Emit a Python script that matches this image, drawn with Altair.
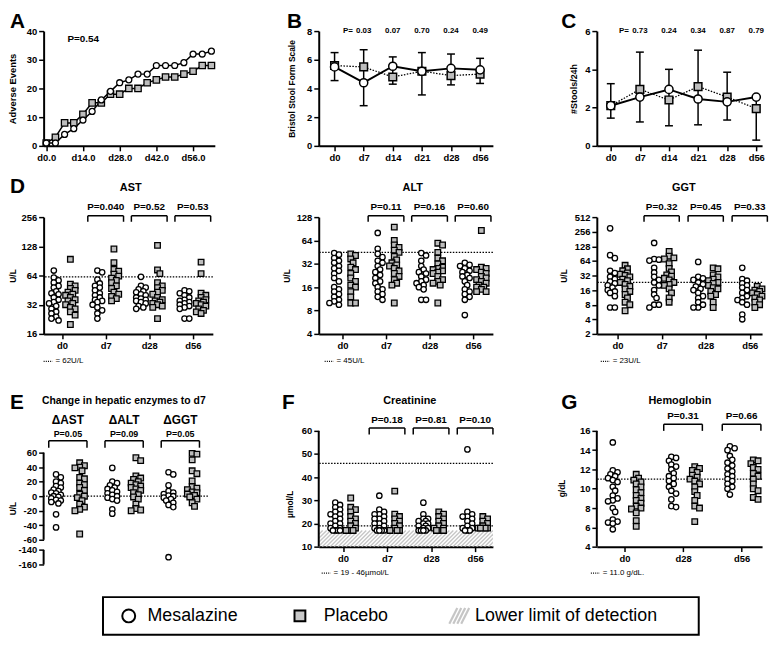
import math
import altair as alt
import pandas as pd

FONT = "Liberation Sans"
INK = "black"
PFILL = "#bdbdbd"
HATCH = "#c6c6c6"

# ------------------------------------------------------------------ data
# A  cumulative adverse events
A_days = [0, 3.5, 7, 10.5, 14, 17.5, 21, 24.5, 28, 31.5, 35, 38.5, 42, 45.5, 49, 52.5, 56, 59.5, 63]
A_mes = [1, 1, 4, 6, 9, 12, 16, 19, 22, 23, 25, 25, 28, 28, 28, 29, 32, 32, 33]
A_pla = [1, 3, 8, 8, 11, 15, 15, 18, 18, 20, 20, 22, 23, 24, 24, 25, 26, 28, 28]
A_ticks = [0, 14, 28, 42, 56]
A_ptext = "P=0.54"

# B / C  stool form and frequency
BC_days = ["d0", "d7", "d14", "d21", "d28", "d56"]
B_mes = [5.5, 4.4, 5.55, 5.2, 5.4, 5.3]
B_pla = [5.6, 5.5, 4.8, 5.2, 4.9, 5.0]
B_lo = [4.55, 2.8, 4.3, 3.55, 4.25, 4.35]
B_hi = [6.5, 6.7, 6.2, 6.5, 6.4, 6.1]
B_p = ["0.03", "0.07", "0.70", "0.24", "0.49"]

C_mes = [2.1, 2.55, 2.95, 2.45, 2.3, 2.55]
C_pla = [2.1, 2.95, 2.4, 3.1, 2.55, 1.95]
C_lo = [1.45, 1.25, 1.05, 1.1, 1.35, 0.3]
C_hi = [3.25, 4.9, 4.0, 5.0, 3.85, 2.55]
C_p = ["0.73", "0.24", "0.34", "0.87", "0.79"]

LAB_days = ["d0", "d7", "d28", "d56"]
# D  AST (U/L)
AST_d0_mes = [72, 61, 57, 54, 50, 48, 44, 42, 41, 38, 36, 34, 33, 31, 29, 27, 26, 24, 23, 22]
AST_d0_pla = [94, 52, 50, 47, 45, 43, 41, 40, 38, 36, 35, 33, 32, 30, 29, 27, 25, 20]
AST_d7_mes = [72, 69, 58, 53, 50, 48, 45, 42, 40, 38, 36, 35, 34, 32, 30, 28, 26, 23]
AST_d7_pla = [120, 87, 74, 71, 66, 63, 60, 57, 54, 50, 47, 43, 41, 39, 37, 35]
AST_d28_mes = [62, 50, 48, 46, 44, 43, 41, 40, 38, 37, 36, 35, 34, 33, 31, 30, 29]
AST_d28_pla = [131, 73, 67, 54, 50, 48, 45, 43, 41, 38, 36, 35, 34, 33, 32, 31, 30, 23]
AST_d56_mes = [45, 44, 42, 40, 38, 36, 35, 34, 33, 32, 31, 30, 29, 23, 23]
AST_d56_pla = [88, 67, 42, 40, 38, 36, 35, 34, 33, 32, 31, 29, 28, 27, 26]
AST_p = ["P=0.040", "P=0.52", "P=0.53"]
AST_ref = [62]

# D  ALT (U/L)
ALT_d0_mes = [44, 42, 38, 35, 33, 30, 28, 26, 24, 21, 19, 16, 15, 14, 13, 12, 11, 10.5, 10, 9.5]
ALT_d0_pla = [43, 41, 37, 33, 29, 27, 24, 21, 19, 17, 16, 14, 12, 10, 10]
ALT_d7_mes = [80, 50, 43, 39, 35, 33, 30, 27, 25, 23, 21, 19, 18, 16, 15, 14, 13, 12, 11]
ALT_d7_pla = [95, 64, 56, 52, 48, 45, 40, 36, 33, 31, 30, 28, 26, 24, 22, 20, 18, 17, 10]
ALT_d28_mes = [44, 41, 35, 30, 27, 25, 24, 22, 20, 19, 18, 17, 16, 15, 11, 11]
ALT_d28_pla = [59, 56, 45, 38, 35, 32, 29, 28, 27, 26, 25, 24, 22, 20, 19, 18, 17, 10]
ALT_d56_mes = [33, 31, 30, 28, 26, 25, 23, 22, 21, 19, 17, 15, 14, 13, 12, 11, 7]
ALT_d56_pla = [86, 29, 28, 27, 25, 24, 22, 21, 20, 19, 18, 17, 16, 16, 15, 14, 14]
ALT_p = ["P=0.11", "P=0.16", "P=0.60"]
ALT_ref = [45]

# D  GGT (U/L)
GGT_d0_mes = [300, 84, 73, 40, 36, 30, 27, 24, 22, 20, 18, 16, 15, 14, 12, 7, 7]
GGT_d0_pla = [52, 44, 40, 36, 34, 32, 30, 27, 25, 23, 21, 19, 17, 15, 13, 11, 9, 8, 6]
GGT_d7_mes = [150, 70, 68, 65, 46, 37, 30, 26, 23, 20, 16, 13, 11, 8, 8, 7]
GGT_d7_pla = [100, 80, 74, 70, 56, 45, 38, 33, 31, 28, 26, 23, 21, 20, 17, 14, 11, 9]
GGT_d28_mes = [61, 30, 28, 26, 23, 21, 19, 17, 16, 14, 12, 11, 9, 8, 7, 7]
GGT_d28_pla = [46, 44, 33, 30, 27, 25, 23, 22, 20, 18, 17, 15, 13, 12, 9, 7]
GGT_d56_mes = [46, 27, 25, 22, 20, 18, 16, 14, 12, 11, 10, 9, 8, 5, 4]
GGT_d56_pla = [19, 17, 16, 15, 14, 13, 12, 11, 10, 9, 8, 7]
GGT_p = ["P=0.32", "P=0.45", "P=0.33"]
GGT_ref = [23]

# E  change to d7 (U/L)
E_cats = ["ΔAST", "ΔALT", "ΔGGT"]
E_AST_mes = [30, 26, 20, 18, 14, 12, 9, 7, 5, 4, 2, 0, -1, -3, -5, -6, -8, -10, -25, -43]
E_AST_pla = [46, 42, 40, 39, 35, 26, 24, 18, 16, 12, 8, 3, 0, -2, -6, -11, -15, -18, -20, -52]
E_ALT_mes = [39, 20, 18, 15, 12, 10, 8, 6, 4, 2, 0, -2, -4, -6, -18, -24]
E_ALT_pla = [53, 49, 28, 25, 23, 20, 18, 16, 14, 12, 10, 8, 5, 2, -1, -4, -11, -17, -19, -20]
E_GGT_mes = [33, 30, 15, 7, 5, 3, 1, 0, -2, -4, -6, -9, -12, -15, -150]
E_GGT_pla = [59, 58, 50, 35, 31, 21, 13, 11, 9, 6, 5, 3, 1, -1, -4, -9, -14]
E_p = ["P=0.05", "P=0.09", "P=0.05"]
E_upper_ticks = [60, 40, 20, 0, -20, -40, -60]
E_lower_ticks = [-140, -160]
E_ref = [0]

# F  creatinine (umol/L)
F_d0_mes = [29, 28, 27, 26, 25, 24, 24, 23, 22, 21, 20, 20, 19, 18, 18, 17, 17, 17, 17]
F_d0_pla = [31, 27, 26, 25, 23, 22, 21, 20, 19, 18, 17, 17, 17]
F_d7_mes = [32, 26, 25, 24, 24, 23, 22, 22, 21, 20, 20, 19, 18, 18, 17, 17, 17, 17]
F_d7_pla = [34, 24, 23, 22, 21, 20, 19, 18, 17, 17, 17]
F_d28_mes = [29, 24, 22, 22, 21, 21, 20, 20, 19, 19, 18, 18, 17, 17, 17, 17]
F_d28_pla = [25, 24, 23, 22, 21, 20, 19, 18, 18, 17, 17, 17, 17]
F_d56_mes = [52, 25, 24, 23, 23, 22, 21, 20, 19, 18, 18, 17, 17, 17]
F_d56_pla = [23, 22, 21, 20, 19, 18, 18, 18, 18]
F_p = ["P=0.18", "P=0.81", "P=0.10"]
F_ref = [19, 46]
F_lod = 17
F_ticks = [10, 20, 30, 40, 50, 60]

# G  hemoglobin (g/dL)
G_days = ["d0", "d28", "d56"]
G_d0_mes = [14.8, 11.9, 11.7, 11.5, 11.3, 11.1, 10.9, 10.7, 10.2, 9.8, 9.3, 9.0, 8.8, 8.7, 8.0, 7.6, 6.8, 6.6, 6.5, 6.4, 5.8]
G_d0_pla = [11.5, 11.1, 10.9, 10.7, 10.5, 10.2, 9.9, 9.6, 9.3, 9.0, 8.8, 8.5, 8.2, 8.0, 7.9, 7.5, 6.7, 6.1]
G_d28_mes = [13.3, 13.2, 12.9, 12.5, 12.3, 12.0, 11.6, 11.3, 11.1, 10.8, 10.5, 10.2, 9.8, 9.5, 8.9, 8.2, 8.1]
G_d28_pla = [12.3, 12.1, 11.9, 11.7, 11.4, 11.2, 11.0, 10.8, 10.5, 10.2, 9.7, 9.3, 8.8, 8.2, 8.0, 6.6]
G_d56_mes = [14.4, 14.2, 14.0, 13.4, 13.0, 12.7, 12.4, 12.1, 11.8, 11.5, 11.3, 11.0, 10.8, 10.5, 10.2, 10.0, 9.4]
G_d56_pla = [13.0, 12.9, 12.6, 12.2, 12.0, 11.6, 11.3, 11.0, 10.5, 10.0, 9.8, 9.1, 8.9]
G_p = ["P=0.31", "P=0.66"]
G_ref = [11.0]
G_ticks = [4, 6, 8, 10, 12, 14, 16]

LEGEND = ["Mesalazine", "Placebo", "Lower limit of detection"]


# ------------------------------------------------------------------ helpers
def note(t, x, y, size=10, weight="bold", align="center", baseline="middle"):
    return alt.Chart(pd.DataFrame({"t": [t]})).mark_text(
        font=FONT, fontSize=size, fontWeight=weight, align=align,
        baseline=baseline, color=INK
    ).encode(x=alt.value(x), y=alt.value(y), text="t:N")


def seg(x, x2, y, y2=None, dash=None, width=1.5, color=INK):
    kw = dict(color=color, strokeWidth=width)
    if dash:
        kw["strokeDash"] = dash
    enc = dict(x=alt.value(x), x2=alt.value(x2), y=alt.value(y))
    if y2 is not None:
        enc["y2"] = alt.value(y2)
    return alt.Chart(pd.DataFrame({"k": [0]})).mark_rule(**kw).encode(**enc)


def letter(t, x, y):
    return note(t, x, y, size=21, align="left", baseline="alphabetic")


def circles(df, X, Y, size, sw=1.3):
    return alt.Chart(df).mark_point(
        shape="circle", filled=True, fill="white", stroke=INK,
        strokeWidth=sw, size=size, opacity=1
    ).encode(x=X("x"), y=Y("y"))


def squares(df, X, Y, size, sw=1.3):
    return alt.Chart(df).mark_point(
        shape="square", filled=True, fill=PFILL, stroke=INK,
        strokeWidth=sw, size=size, opacity=1
    ).encode(x=X("x"), y=Y("y"))


def y_axis(values, title, tx, ty, label_expr=None, domain=True, title_size=8.5):
    kw = dict(values=values, title=title, titleX=tx, titleY=ty, titleAngle=270,
              titleAlign="center", titleBaseline="middle",
              titleFontSize=title_size, domain=domain)
    if label_expr:
        kw["labelExpr"] = label_expr
    return alt.Axis(**kw)


def cat_axis(names, base):
    arr = "[" + ",".join("'" + n + "'" for n in names) + "]"
    return alt.Axis(values=list(range(base, base + len(names))),
                    labelExpr=f"{arr}[datum.value - {base}]", title=None)


def swarm(pys, step=2.4, mind=4.2, kmax=2):
    """Compact column scatter: spread near-equal values sideways, max +-kmax steps."""
    order = sorted(range(len(pys)), key=lambda i: -pys[i])
    cands = [0.0]
    for k in range(1, kmax + 1):
        cands += [k * step, -k * step]
    placed, out = [], [0.0] * len(pys)
    for i in order:
        y = pys[i]
        best, bestd = 0.0, -1.0
        for c in cands:
            d = min([math.hypot(c - a, y - b) for a, b in placed] or [99.0])
            if d >= mind:
                best = c
                break
            if d > bestd:
                best, bestd = c, d
        placed.append((best, y))
        out[i] = best
    return out


def build_points(groups, side, xunit, ypx, tf):
    rows = []
    for i, (m, p) in enumerate(groups, start=1):
        for vals, sgn, g in ((m, -1, "Mesalazine"), (p, 1, "Placebo")):
            tv = [tf(v) for v in vals]
            offs = swarm([ypx(v) for v in tv])
            for v, o in zip(tv, offs):
                rows.append({"x": i + sgn * side + o / xunit, "y": v, "grp": g})
    return pd.DataFrame(rows)


# ------------------------------------------------------------------ panel A
H1 = 116
A_dom = [-1.0, 64.3]
W_A = 173
sAx = alt.Scale(domain=A_dom, nice=False, zero=False)
aAx = alt.Axis(values=A_ticks, labelExpr="'d' + format(datum.value, '.1f')", title=None)
sAy = alt.Scale(domain=[0, 40], nice=False)
aAy = y_axis([0, 10, 20, 30, 40], "Adverse Events", -31, H1 / 2, title_size=9.5)


def XA(f):
    return alt.X(f, type="quantitative", scale=sAx, axis=aAx)


def YA(f):
    return alt.Y(f, type="quantitative", scale=sAy, axis=aAy)


dfAm = pd.DataFrame({"x": A_days, "y": A_mes})
dfAp = pd.DataFrame({"x": A_days, "y": A_pla})
pA = alt.layer(
    alt.Chart(dfAp).mark_line(color=INK, strokeWidth=1.5).encode(x=XA("x"), y=YA("y")),
    alt.Chart(dfAm).mark_line(color=INK, strokeWidth=1.5).encode(x=XA("x"), y=YA("y")),
    squares(dfAp, XA, YA, 42),
    circles(dfAm, XA, YA, 36),
    note(A_ptext, 40, 8),
    letter("A", -34, -3),
).properties(width=W_A, height=H1)


# ------------------------------------------------------------------ panels B, C
def bc_panel(mes, pla, lo, hi, pv, ymax, ytitle, tsize, ttx, W, xdom, let, letx):
    sx = alt.Scale(domain=xdom, nice=False, zero=False)
    ax = cat_axis(BC_days, 0)
    sy = alt.Scale(domain=[0, ymax], nice=False)
    ay = y_axis(list(range(0, ymax + 1, 2)), ytitle, ttx, H1 / 2, title_size=tsize)

    def X(f):
        return alt.X(f, type="quantitative", scale=sx, axis=ax)

    def Y(f):
        return alt.Y(f, type="quantitative", scale=sy, axis=ay)

    unit = W / (xdom[1] - xdom[0])
    idx = list(range(len(BC_days)))
    cap = 4.0 / unit
    dm = pd.DataFrame({"x": idx, "y": mes})
    dp = pd.DataFrame({"x": idx, "y": pla})
    de = pd.DataFrame({"x": idx, "lo": lo, "hi": hi,
                       "xl": [i - cap for i in idx], "xr": [i + cap for i in idx]})
    dv = pd.DataFrame({"x": idx[1:], "t": pv})
    bar = alt.Chart(de).mark_rule(color=INK, strokeWidth=1.5)
    layers = [
        bar.encode(x=X("x"), y=Y("lo"), y2="hi:Q"),
        bar.encode(x=X("xl"), x2="xr:Q", y=Y("lo")),
        bar.encode(x=X("xl"), x2="xr:Q", y=Y("hi")),
        alt.Chart(dp).mark_line(color=INK, strokeWidth=1.3, strokeDash=[1.5, 1.5]).encode(x=X("x"), y=Y("y")),
        alt.Chart(dm).mark_line(color=INK, strokeWidth=2).encode(x=X("x"), y=Y("y")),
        squares(dp, X, Y, 60, 1.5),
        circles(dm, X, Y, 68, 1.5),
        alt.Chart(dv).mark_text(font=FONT, fontSize=8, fontWeight="bold", color=INK).encode(
            x=X("x"), y=alt.value(0), text="t:N"),
        note("P=", (1 - xdom[0]) * unit - 11, 0, size=8, align="right"),
        letter(let, letx, -3),
    ]
    return alt.layer(*layers).properties(width=W, height=H1)


pB = bc_panel(B_mes, B_pla, B_lo, B_hi, B_p, 8, "Bristol Stool Form Scale", 8.5, -27,
              176, [-0.544, 5.44], "B", -32)
pC = bc_panel(C_mes, C_pla, C_lo, C_hi, C_p, 6, "#Stools/24h", 9, -24,
              167, [-0.48, 5.2], "C", -36)


# ------------------------------------------------------------------ lab panels
def lab_panel(groups, cats, *, W, H, xdom, side, bhalf, ylog, ydom, ykpx, yticks,
              ytitle, ytx, yty, refs, pvals, pstart, by, bleg, py, psize=10,
              title=None, tx=0, ty=0, tsize=11, let="", lx=0, ly=0,
              foot=None, fx=0, fy=0, ylab=None, axis_segments=None,
              tf=lambda v: v, band=None, xaxis=True, extra=None):
    xunit = W / (xdom[1] - xdom[0])
    sx = alt.Scale(domain=xdom, nice=False, zero=False)
    ax = cat_axis(cats, 1) if xaxis else None
    if ylog:
        sy = alt.Scale(type="log", base=2, domain=ydom, nice=False)
    else:
        sy = alt.Scale(domain=ydom, nice=False, zero=False)
    ay = y_axis(yticks, ytitle, ytx, yty, label_expr=ylab,
                domain=axis_segments is None, title_size=8.5)

    def X(f):
        return alt.X(f, type="quantitative", scale=sx, axis=ax)

    def Y(f):
        return alt.Y(f, type="quantitative", scale=sy, axis=ay)

    if ylog:
        ypx = lambda v: ykpx * math.log2(v)
    else:
        ypx = lambda v: ykpx * v
    pts = build_points(groups, side, xunit, ypx, tf)
    dm = pts[pts.grp == "Mesalazine"].reset_index(drop=True)
    dp = pts[pts.grp == "Placebo"].reset_index(drop=True)

    layers = []
    if band is not None:
        layers.append(band(X, Y, xdom, xunit))
    layers.append(alt.Chart(pd.DataFrame({"y": refs})).mark_rule(
        color=INK, strokeWidth=1.3, strokeDash=[1.5, 1.5]).encode(y=Y("y")))
    if axis_segments:
        layers.append(alt.Chart(pd.DataFrame({"y": [a for a, b in axis_segments],
                                              "y2": [b for a, b in axis_segments]}))
                      .mark_rule(color=INK, strokeWidth=2)
                      .encode(x=alt.value(0), y=Y("y"), y2="y2:Q"))
    layers += [squares(dp, X, Y, 32), circles(dm, X, Y, 30)]
    ci = list(range(pstart, pstart + len(pvals)))
    db = pd.DataFrame({"xl": [c - bhalf for c in ci], "xr": [c + bhalf for c in ci],
                       "xc": ci, "t": pvals})
    br = alt.Chart(db).mark_rule(color=INK, strokeWidth=1.5)
    layers += [
        br.encode(x=X("xl"), x2="xr:Q", y=alt.value(by)),
        br.encode(x=X("xl"), y=alt.value(by), y2=alt.value(bleg)),
        br.encode(x=X("xr"), y=alt.value(by), y2=alt.value(bleg)),
        alt.Chart(db).mark_text(font=FONT, fontSize=psize, fontWeight="bold", color=INK).encode(
            x=X("xc"), y=alt.value(py), text="t:N"),
    ]
    if title:
        layers.append(note(title, tx, ty, size=tsize))
    if let:
        layers.append(letter(let, lx, ly))
    if foot:
        layers.append(seg(fx, fx + 9, fy, dash=[1, 1.2], width=1.2))
        layers.append(note(foot, fx + 12, fy, size=8, weight="normal", align="left"))
    if extra is not None:
        layers += extra(X, Y)
    return alt.layer(*layers).properties(width=W, height=H)


H2 = 118
pAST = lab_panel(
    [(AST_d0_mes, AST_d0_pla), (AST_d7_mes, AST_d7_pla), (AST_d28_mes, AST_d28_pla), (AST_d56_mes, AST_d56_pla)],
    LAB_days, W=171, H=H2, xdom=[0.576, 4.46], side=0.19, bhalf=0.41,
    ylog=True, ydom=[16, 256], ykpx=H2 / 4, yticks=[16, 32, 64, 128, 256],
    ytitle="U/L", ytx=-31, yty=59, refs=AST_ref, pvals=AST_p, pstart=2,
    by=-1.3, bleg=4.7, py=-9.7, title="AST", tx=88, ty=-29, let="D", lx=-34, ly=-24,
    foot="= 62U/L", fx=0, fy=145.7)

pALT = lab_panel(
    [(ALT_d0_mes, ALT_d0_pla), (ALT_d7_mes, ALT_d7_pla), (ALT_d28_mes, ALT_d28_pla), (ALT_d56_mes, ALT_d56_pla)],
    LAB_days, W=176, H=H2, xdom=[0.455, 4.455], side=0.19, bhalf=0.41,
    ylog=True, ydom=[4, 128], ykpx=H2 / 5, yticks=[4, 8, 16, 32, 64, 128],
    ytitle="U/L", ytx=-33, yty=59, refs=ALT_ref, pvals=ALT_p, pstart=2,
    by=-1.3, bleg=4.7, py=-9.7, title="ALT", tx=95, ty=-29,
    foot="= 45U/L", fx=6, fy=145.7)

pGGT = lab_panel(
    [(GGT_d0_mes, GGT_d0_pla), (GGT_d7_mes, GGT_d7_pla), (GGT_d28_mes, GGT_d28_pla), (GGT_d56_mes, GGT_d56_pla)],
    LAB_days, W=167, H=H2, xdom=[0.528, 4.28], side=0.17, bhalf=0.4,
    ylog=True, ydom=[2, 512], ykpx=H2 / 8, yticks=[2, 4, 8, 16, 32, 64, 128, 256, 512],
    ytitle="U/L", ytx=-34, yty=59, refs=GGT_ref, pvals=GGT_p, pstart=2,
    by=-1.3, bleg=4.7, py=-9.7, title="GGT", tx=88, ty=-29,
    foot="= 23U/L", fx=4, fy=145.7)

# row 3: cells start 26 px above the visual plot top of F / G
H3 = 143

# E with a broken axis
E_kpx = 113 / 154.0
E_shift = 66


def e_tf(v):
    return v if v >= -100 else v + E_shift


E_top = 60 + 48 / E_kpx
E_bottom = e_tf(E_lower_ticks[-1])
E_axis_segments = [(E_upper_ticks[0], E_upper_ticks[-1]),
                   (e_tf(E_lower_ticks[0]), e_tf(E_lower_ticks[-1]))]
E_ticks = E_upper_ticks + [e_tf(v) for v in E_lower_ticks]


def e_extra(X, Y):
    lab = pd.DataFrame({"xc": [1, 2, 3], "t": E_cats})
    out = [alt.Chart(lab).mark_text(font=FONT, fontSize=12, fontWeight="bold", color=INK).encode(
        x=X("xc"), y=alt.value(15), text="t:N")]
    # legend box below the panels
    out.append(alt.Chart(pd.DataFrame({"k": [0]})).mark_rect(
        fillOpacity=0, stroke=INK, strokeWidth=2).encode(
        x=alt.value(60), x2=alt.value(662), y=alt.value(194), y2=alt.value(232)))
    out.append(alt.Chart(pd.DataFrame({"k": [0]})).mark_point(
        shape="circle", filled=True, fill="white", stroke=INK, strokeWidth=2, size=170, opacity=1).encode(
        x=alt.value(86), y=alt.value(213)))
    out.append(note(LEGEND[0], 105, 213, size=18, weight="normal", align="left"))
    out.append(alt.Chart(pd.DataFrame({"k": [0]})).mark_point(
        shape="square", filled=True, fill="#c8c8c8", stroke=INK, strokeWidth=2, size=120, opacity=1).encode(
        x=alt.value(259), y=alt.value(213)))
    out.append(note(LEGEND[1], 283, 213, size=18, weight="normal", align="left"))
    for k in range(4):
        out.append(seg(410 + 4 * k, 418 + 4 * k, 221, 205, width=2.2, color=HATCH))
    out.append(note(LEGEND[2], 436, 213, size=18, weight="normal", align="left"))
    return out


pE = lab_panel(
    [(E_AST_mes, E_AST_pla), (E_ALT_mes, E_ALT_pla), (E_GGT_mes, E_GGT_pla)],
    E_cats, W=166, H=161, xdom=[0.569, 3.49], side=0.21, bhalf=0.34,
    ylog=False, ydom=[E_bottom, E_top], ykpx=E_kpx, yticks=E_ticks,
    ytitle="U/L", ytx=-31, yty=104, refs=E_ref, pvals=E_p, pstart=1,
    by=36, bleg=43, py=29, psize=9,
    title="Change in hepatic enzymes to d7", tx=81, ty=-4, tsize=10.5,
    let="E", lx=-34, ly=3.7,
    ylab=f"datum.value < -65 ? datum.value - {E_shift} : datum.value",
    axis_segments=E_axis_segments, tf=e_tf, xaxis=False, extra=e_extra)


F_kpx = 117 / 50.0


def f_band(X, Y, xdom, xunit):
    dx = (F_lod - F_ticks[0]) * F_kpx / xunit
    sp = 4.0 / xunit
    return alt.Chart(alt.sequence(0, 60, as_="k")).transform_calculate(
        x=f"{xdom[0] - dx} + datum.k * {sp}",
        x2=f"datum.x + {dx}",
        y=f"{F_ticks[0]}",
        y2=f"{F_lod}",
    ).mark_rule(color=HATCH, strokeWidth=1.4, clip=True).encode(
        x=X("x"), x2="x2:Q", y=Y("y"), y2="y2:Q")


pF = lab_panel(
    [(F_d0_mes, F_d0_pla), (F_d7_mes, F_d7_pla), (F_d28_mes, F_d28_pla), (F_d56_mes, F_d56_pla)],
    LAB_days, W=176, H=H3, xdom=[0.449, 4.404], side=0.175, bhalf=0.405,
    ylog=False, ydom=[F_ticks[0], F_ticks[0] + H3 / F_kpx], ykpx=F_kpx, yticks=F_ticks,
    ytitle="µmol/L", ytx=-30, yty=99.7, refs=F_ref, pvals=F_p, pstart=2,
    by=23, bleg=29.7, py=15.3, title="Creatinine", tx=92, ty=-4, let="F", lx=-37, ly=3.7,
    foot="= 19 - 46µmol/L", fx=3, fy=169.7,
    axis_segments=[(F_ticks[-1], F_ticks[0])], band=f_band)

G_kpx = 117 / 12.0
pG = lab_panel(
    [(G_d0_mes, G_d0_pla), (G_d28_mes, G_d28_pla), (G_d56_mes, G_d56_pla)],
    G_days, W=167, H=H3, xdom=[0.527, 3.35], side=0.2, bhalf=0.33,
    ylog=False, ydom=[G_ticks[0], G_ticks[0] + H3 / G_kpx], ykpx=G_kpx, yticks=G_ticks,
    ytitle="g/dL", ytx=-36, yty=83.7, refs=G_ref, pvals=G_p, pstart=2,
    by=19.3, bleg=26, py=11.3, title="Hemoglobin", tx=84, ty=-4, let="G", lx=-36, ly=3.7,
    foot="= 11.0 g/dL.", fx=-6, fy=169.7,
    axis_segments=[(G_ticks[-1], G_ticks[0])])

chart = alt.concat(
    pA, pB, pC, pAST, pALT, pGGT, pE, pF, pG,
    columns=3, spacing={"row": 72, "column": 105}, bounds="flush",
).properties(padding=0).configure_view(stroke=None).configure_axis(
    domainColor=INK, domainWidth=2, tickColor=INK, tickWidth=1.5, tickSize=5,
    labelColor=INK, labelFont=FONT, labelFontWeight="bold", labelFontSize=9.5,
    labelPadding=2, labelFlush=False, labelOverlap=False,
    titleFont=FONT, titleFontWeight="bold", titleColor=INK, grid=False,
)

chart.save("out.html", embed_options={"renderer": "svg", "actions": False})
